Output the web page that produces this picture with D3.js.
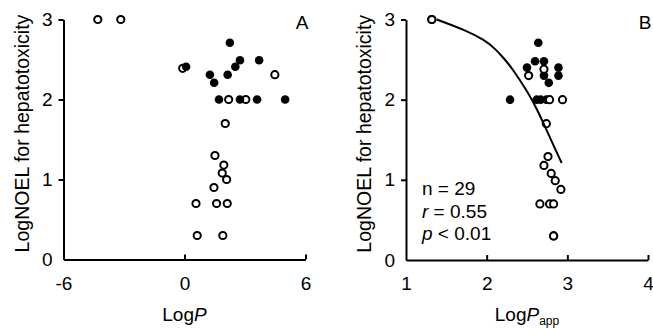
<!DOCTYPE html>
<html>
<head>
<meta charset="utf-8">
<script src="https://cdn.jsdelivr.net/npm/d3@7"></script>
<style>
  html, body { margin: 0; padding: 0; background: #fff; }
  svg { display: block; font-family: "Liberation Sans", Arial, sans-serif; }
</style>
</head>
<body>
<svg id="chart" width="653" height="329"></svg>
<script>
// ---- Data ----
const yTicks = [0, 1, 2, 3];
const xTicksA = [-6, 0, 6];
const xTicksB = [1, 2, 3, 4];

// Panel A: LogP vs LogNOEL
const aOpenX = [-4.3, -3.16, -0.09, 4.48, 2.19, 3.04, 2.02, 1.51, 1.95, 1.87, 2.09, 1.46, 0.57, 1.59, 2.12, 0.63, 1.9];
const aOpenY = [3, 3, 2.39, 2.31, 2, 2, 1.7, 1.3, 1.18, 1.08, 1.0, 0.9, 0.7, 0.7, 0.7, 0.3, 0.3];
const aFillX = [0.08, 1.26, 1.47, 2.25, 2.14, 2.52, 2.75, 3.70, 1.71, 2.75, 3.6, 4.99];
const aFillY = [2.41, 2.31, 2.21, 2.71, 2.31, 2.41, 2.49, 2.49, 2, 2, 2, 2];

// Panel B: LogPapp vs LogNOEL
const bOpenX = [1.32, 1.32, 2.71, 2.52, 2.78, 2.94, 2.74, 2.76, 2.71, 2.80, 2.85, 2.92, 2.66, 2.78, 2.83, 2.83, 2.83];
const bOpenY = [3, 3, 2.38, 2.30, 2, 2, 1.70, 1.29, 1.18, 1.08, 0.99, 0.88, 0.7, 0.7, 0.7, 0.3, 0.3];
const bFillX = [2.64, 2.60, 2.71, 2.50, 2.89, 2.71, 2.89, 2.77, 2.29, 2.62, 2.67, 2.74];
const bFillY = [2.71, 2.48, 2.48, 2.40, 2.40, 2.30, 2.30, 2.21, 2, 2, 2, 2];

// Trend curve in panel B
const curveX = [1.38, 1.73, 1.98, 2.10, 2.21, 2.31, 2.52, 2.64, 2.76, 2.93];
const curveY = [3.00, 2.87, 2.74, 2.64, 2.52, 2.40, 2.08, 1.85, 1.58, 1.21];

const statsLines = ["n = 29", "r = 0.55", "p < 0.01"];

// ---- Drawing ----
const svg = d3.select("#chart");
const FONT = 19;

function panel(opts) {
  const g = svg.append("g");
  const x = d3.scaleLinear().domain(opts.xDomain).range(opts.xRange);
  const y = d3.scaleLinear().domain([0, 3]).range(opts.yRange);

  const ya = g.append("g").attr("transform", `translate(${opts.xRange[0]},0)`)
    .call(d3.axisLeft(y).tickValues(yTicks).tickFormat(d => String(d)).tickSize(5).tickPadding(6).tickSizeOuter(0));
  const xa = g.append("g").attr("transform", `translate(0,${opts.yRange[0]})`)
    .call(d3.axisBottom(x).tickValues(opts.xTicks).tickFormat(d => String(d)).tickSize(-5).tickPadding(17).tickSizeOuter(0));
  [ya, xa].forEach(a => {
    a.select(".domain").attr("stroke", "#000").attr("stroke-width", 2);
    a.selectAll(".tick line").attr("stroke", "#000").attr("stroke-width", 2);
    a.selectAll(".tick text").attr("fill", "#000").attr("font-size", FONT)
      .attr("font-family", '"Liberation Sans", Arial, sans-serif');
  });
  xa.selectAll(".tick line").filter(d => d === opts.xDomain[0]).remove();
  ya.selectAll(".tick line").filter(d => d === 0).remove();

  g.append("text")
    .attr("transform", `translate(${opts.yLabelX},${(opts.yRange[0] + opts.yRange[1]) / 2 - 6}) rotate(-90)`)
    .attr("text-anchor", "middle").attr("dominant-baseline", "central")
    .attr("font-size", 19.5).attr("fill", "#000")
    .text("LogNOEL for hepatotoxicity");

  return { g, x, y };
}

function openPts(p, xs, ys) {
  p.g.append("g").selectAll("circle").data(xs.map((v, i) => [v, ys[i]])).join("circle")
    .attr("cx", d => p.x(d[0])).attr("cy", d => p.y(d[1])).attr("r", 3.6)
    .attr("fill", "#fff").attr("stroke", "#000").attr("stroke-width", 2);
}
function fillPts(p, xs, ys) {
  p.g.append("g").selectAll("circle").data(xs.map((v, i) => [v, ys[i]])).join("circle")
    .attr("cx", d => p.x(d[0])).attr("cy", d => p.y(d[1])).attr("r", 4.3)
    .attr("fill", "#000");
}

// Panel A
const A = panel({ xDomain: [-6, 6], xRange: [63.5, 305.5], yRange: [259.5, 19.5], xTicks: xTicksA, yLabelX: 22 });
openPts(A, aOpenX, aOpenY);
fillPts(A, aFillX, aFillY);
A.g.append("text").attr("x", 302).attr("y", 29).attr("text-anchor", "middle")
  .attr("font-size", FONT).text("A");
const labA = A.g.append("text").attr("x", 184.5).attr("y", 321).attr("text-anchor", "middle").attr("font-size", FONT);
labA.append("tspan").text("Log");
labA.append("tspan").attr("font-style", "italic").text("P");

// Panel B
const B = panel({ xDomain: [1, 4], xRange: [406, 648], yRange: [260, 19.5], xTicks: xTicksB, yLabelX: 364 });
fillPts(B, bFillX, bFillY);
openPts(B, bOpenX, bOpenY);
B.g.append("path")
  .datum(curveX.map((v, i) => [v, curveY[i]]))
  .attr("fill", "none").attr("stroke", "#000").attr("stroke-width", 2)
  .attr("d", d3.line().x(d => B.x(d[0])).y(d => B.y(d[1])).curve(d3.curveBasis));
B.g.append("text").attr("x", 645).attr("y", 29).attr("text-anchor", "middle")
  .attr("font-size", FONT).text("B");
const labB = B.g.append("text").attr("x", 527).attr("y", 321).attr("text-anchor", "middle").attr("font-size", FONT);
labB.append("tspan").text("Log");
labB.append("tspan").attr("font-style", "italic").text("P");
labB.append("tspan").attr("font-size", 12).attr("dy", 4).text("app");

// Stats annotation
const st = B.g.append("g").attr("font-size", FONT);
statsLines.forEach((s, i) => {
  const t = st.append("text").attr("x", 422).attr("y", 195 + i * 22.5);
  const parts = s.split(" ");
  if (parts[0] === "n") {
    t.text(s);
  } else {
    t.append("tspan").attr("font-style", "italic").text(parts[0]);
    t.append("tspan").text(" " + parts.slice(1).join(" "));
  }
});
</script>
</body>
</html>
